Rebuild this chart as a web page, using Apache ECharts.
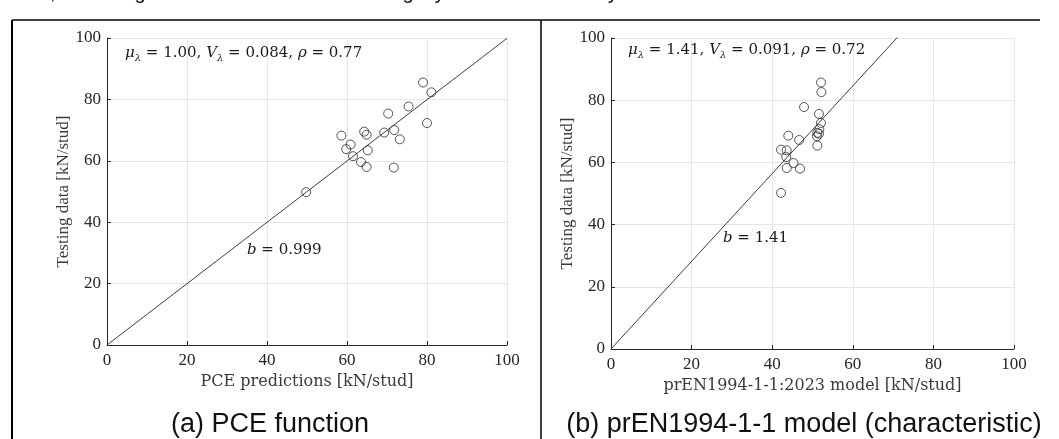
<!DOCTYPE html>
<html>
<head>
<meta charset="utf-8">
<script src="https://cdn.jsdelivr.net/npm/echarts@6/dist/echarts.min.js"></script>
<style>
html, body { margin: 0; padding: 0; background: #ffffff; }
#chart { width: 1059px; height: 439px; }
</style>
</head>
<body>
<div id="chart"></div>
<script>
// (a) PCE predictions vs. test results [kN/stud]
const pcePred = [79.0, 81.1, 75.4, 70.3, 80.0, 58.6, 64.3, 64.9, 69.3, 71.8, 73.2, 60.9, 59.8, 65.2, 61.5, 63.5, 64.9, 71.7, 49.8];
const pceTest = [85.5, 82.3, 77.7, 75.4, 72.3, 68.2, 69.5, 68.5, 69.2, 70.0, 67.0, 65.3, 63.8, 63.4, 61.5, 59.6, 58.0, 57.8, 49.8];

// (b) prEN1994-1-1:2023 characteristic resistance vs. test results [kN/stud]
const enPred = [52.1, 52.2, 47.9, 51.6, 52.1, 51.7, 51.2, 51.1, 51.2, 44.0, 46.7, 42.2, 43.6, 43.5, 45.3, 43.6, 46.9, 42.2, 51.6];
const enTest = [85.7, 82.6, 77.8, 75.6, 72.7, 70.7, 69.5, 68.4, 65.4, 68.6, 67.2, 64.1, 63.9, 61.7, 59.8, 58.2, 58.0, 50.2, 69.2];

// Axis ticks (both panels share the same 0-100 range)
const tickValues = [0, 20, 40, 60, 80, 100];

// Regression statistics per panel: [PCE, prEN1994]
const slopeB = [0.999, 1.41];
const muLambda = ['1.00', '1.41'];
const vLambda = ['0.084', '0.091'];
const rhoVal = ['0.77', '0.72'];

const captions = ['(a) PCE function', '(b) prEN1994-1-1 model (characteristic)'];
const xNames = ['PCE predictions [kN/stud]', 'prEN1994-1-1:2023 model [kN/stud]'];
const yName = 'Testing data [kN/stud]';
const bodyText = '0.001, indicating that the PCE function has slightly smaller uncertainty than the other.';

const SERIF = '"Liberation Serif", "DejaVu Serif", serif';
const WIDE_SERIF = '"DejaVu Serif", "Liberation Serif", serif';
const SANS = '"Liberation Sans", Arial, sans-serif';
const INK = '#262626';

const pairs = (xs, ys) => xs.map((x, i) => [x, ys[i]]);

const grids = [
  { left: 107, top: 38, width: 400, height: 307 },
  { left: 611, top: 38, width: 403, height: 311 }
];

function valueAxis(idx, isX) {
  return {
    type: 'value',
    gridIndex: idx,
    min: tickValues[0],
    max: tickValues[tickValues.length - 1],
    interval: tickValues[1] - tickValues[0],
    name: isX ? xNames[idx] : yName,
    nameLocation: 'middle',
    nameGap: isX ? 26 : 35,
    nameTextStyle: isX
      ? { fontFamily: WIDE_SERIF, fontSize: 16, color: '#3a3a3a' }
      : { fontFamily: SERIF, fontSize: 17, color: '#3a3a3a' },
    axisLine: { show: true, onZero: false, lineStyle: { color: INK, width: 1 } },
    axisTick: { show: true, inside: true, length: 4, lineStyle: { color: INK } },
    axisLabel: { fontFamily: SERIF, fontSize: 17, color: INK, margin: isX ? 7 : 6 },
    splitLine: { show: true, lineStyle: { color: '#e6e6e6', width: 1 } }
  };
}

function fitLine(idx) {
  const b = slopeB[idx];
  return {
    type: 'line',
    xAxisIndex: idx,
    yAxisIndex: idx,
    data: [[0, 0], [100, 100 * b]],
    showSymbol: false,
    clip: true,
    silent: true,
    lineStyle: { color: '#3c3c3c', width: 1 },
    z: 2
  };
}

function scatter(idx, xs, ys) {
  return {
    type: 'scatter',
    xAxisIndex: idx,
    yAxisIndex: idx,
    data: pairs(xs, ys),
    symbol: 'circle',
    symbolSize: 9,
    itemStyle: { color: 'rgba(0,0,0,0)', borderColor: '#2a2a2a', borderWidth: 1 },
    z: 3
  };
}

const mathRich = {
  n: { fontFamily: WIDE_SERIF, fontSize: 15, color: '#1a1a1a', lineHeight: 20, verticalAlign: 'bottom', padding: [0, 0, 2, 0] },
  i: { fontFamily: WIDE_SERIF, fontSize: 15, fontStyle: 'italic', color: '#1a1a1a', lineHeight: 20, verticalAlign: 'bottom', padding: [0, 0, 2, 0] },
  s: { fontFamily: WIDE_SERIF, fontSize: 10, fontStyle: 'italic', color: '#1a1a1a', lineHeight: 13, verticalAlign: 'bottom' }
};

function statsText(idx) {
  return '{i|μ}{s|λ}{n| = ' + muLambda[idx] + ', }{i|V}{s|λ}{n| = ' + vLambda[idx] + ', }{i|ρ}{n| = ' + rhoVal[idx] + '}';
}
function slopeText(idx) {
  return '{i|b}{n| = ' + slopeB[idx] + '}';
}

function mathLabel(x, y, text) {
  return {
    type: 'text', left: x, top: y, z: 10,
    style: { text: text, rich: mathRich, fill: '#1a1a1a' }
  };
}

const graphics = [
  // page text above the figure table
  { type: 'text', left: 0, top: -17, style: { text: bodyText, font: '20px ' + SANS, fill: '#111' } },
  // table borders
  { type: 'line', shape: { x1: 12, y1: 20, x2: 1040, y2: 20 }, style: { stroke: '#000', lineWidth: 1.5 } },
  { type: 'line', shape: { x1: 12, y1: 20, x2: 12, y2: 439 }, style: { stroke: '#000', lineWidth: 2 } },
  { type: 'line', shape: { x1: 541, y1: 20, x2: 541, y2: 439 }, style: { stroke: '#000', lineWidth: 1.5 } },
  // captions
  { type: 'text', x: 270, y: 425, style: { text: captions[0], font: '27px ' + SANS, fill: '#111', align: 'center', verticalAlign: 'middle' } },
  { type: 'text', x: 804, y: 425, style: { text: captions[1], font: '27px ' + SANS, fill: '#111', align: 'center', verticalAlign: 'middle' } },
  // statistics and slope annotations
  mathLabel(125, 46, statsText(0)),
  mathLabel(628, 43, statsText(1)),
  mathLabel(247, 243, slopeText(0)),
  mathLabel(723, 231, slopeText(1))
];

const chart = echarts.init(document.getElementById('chart'), null, { renderer: 'canvas' });
chart.setOption({
  backgroundColor: '#ffffff',
  animation: false,
  grid: grids,
  xAxis: [valueAxis(0, true), valueAxis(1, true)],
  yAxis: [valueAxis(0, false), valueAxis(1, false)],
  series: [
    fitLine(0), scatter(0, pcePred, pceTest),
    fitLine(1), scatter(1, enPred, enTest)
  ],
  graphic: graphics
});
</script>
</body>
</html>
